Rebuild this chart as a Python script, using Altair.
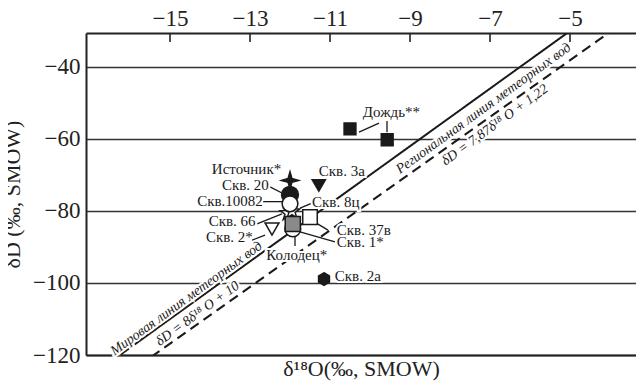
import altair as alt
import pandas as pd

# ---- data ----
names = ["Источник*", "Скв. 20", "Скв. 66", "Скв. 8ц", "Скв.10082", "Скв. 1*",
         "Колодец*", "Скв. 37в", "Скв. 2*", "Скв. 3а", "Скв. 2а", "Дождь**", "Дождь**"]
d18o = [-12.0, -12.0, -12.05, -11.95, -12.0, -11.93, -11.93, -11.5, -12.45, -11.28, -11.15, -10.5, -9.57]
dD = [-71.5, -75.5, -80.6, -80.1, -78.0, -85.0, -83.6, -81.7, -85.0, -72.9, -98.9, -57.2, -60.2]
kind = ["star4", "fcircle", "ostar", "ostar", "ocircle", "ocircle", "gsquare", "osquare",
        "otri", "ftri", "hex", "fsquare", "fsquare"]

# labels (text, x, y, align)
lab_text = ["Источник*", "Скв. 20", "Скв.10082", "Скв. 66", "Скв. 2*", "Скв. 3а", "Скв. 8ц",
            "Скв. 37в", "Скв. 1*", "Колодец*", "Скв. 2а", "Дождь**"]
lab_x = [-12.22, -12.53, -12.68, -12.86, -12.93, -11.28, -11.45, -10.83, -10.83, -11.83, -10.88, -10.18]
lab_y = [-68.3, -72.8, -77.2, -82.8, -87.2, -68.9, -77.5, -85.3, -88.6, -92.3, -98.1, -52.5]
lab_align = ["right", "right", "right", "right", "right", "left", "left",
             "left", "left", "center", "left", "left"]

# leader lines (x1, y1, x2, y2)
ld_x1 = [-12.5, -12.675, -12.825, -12.95, -11.45, -11.35, -11.75, -11.875, -10.275, -9.575]
ld_y1 = [-73.3, -77.4, -83.6, -88.1, -77.8, -83.3, -85.8, -86.1, -58.1, -55.0]
ld_x2 = [-12.2, -12.175, -12.2, -12.625, -11.75, -11.05, -10.875, -11.875, -9.775, -9.575]
ld_y2 = [-75.0, -77.4, -80.8, -86.7, -79.2, -85.3, -88.6, -89.7, -55.6, -58.1]

# meteoric water lines: slope, intercept
gmwl = (8.0, 10.0)
rmwl = (7.87, 1.22)
line_text = ["Мировая линия метеорных вод", "δD = 8δ¹⁸ O + 10",
             "Региональная линия метеорных вод", "δD = 7,87δ¹⁸ O + 1,22"]
line_tx = [-14.59, -14.31, -7.16, -6.88]
line_ty = [-104.3, -108.5, -51.5, -56.1]

top_ticks = [-15, -13, -11, -9, -7, -5]
y_ticks = [-120, -100, -80, -60, -40]

XDOM = [-17.1, -3.35]
YDOM = [-120, -30.56]
FONT = "Liberation Serif"
W, H = 550, 322

xs = alt.Scale(domain=XDOM, nice=False, zero=False)
ys = alt.Scale(domain=YDOM, nice=False, zero=False)


def X(f="x:Q"):
    return alt.X(f, scale=xs, axis=None)


def Y(f="y:Q"):
    return alt.Y(f, scale=ys)


pts = pd.DataFrame({"name": names, "x": d18o, "y": dD, "kind": kind})
labs = pd.DataFrame({"t": lab_text, "x": lab_x, "y": lab_y, "a": lab_align})
leads = pd.DataFrame({"x": ld_x1, "y": ld_y1, "x2": ld_x2, "y2": ld_y2})
lines = pd.DataFrame({
    "x": [XDOM[0], XDOM[0]],
    "y": [gmwl[0] * XDOM[0] + gmwl[1], rmwl[0] * XDOM[0] + rmwl[1]],
    "x2": [XDOM[1], XDOM[1]],
    "y2": [gmwl[0] * XDOM[1] + gmwl[1], rmwl[0] * XDOM[1] + rmwl[1]],
    "ln": ["g", "r"],
})
ltxt = pd.DataFrame({"t": line_text, "x": line_tx, "y": line_ty})
ticks = pd.DataFrame({"x": top_ticks})

STAR4 = "M0,-1 L0.22,-0.22 L1,0 L0.22,0.22 L0,1 L-0.22,0.22 L-1,0 L-0.22,-0.22 Z"
HEX = "M0,-1 L0.866,-0.5 L0.866,0.5 L0,1 L-0.866,0.5 L-0.866,-0.5 Z"
STAR5 = ("M0,-1 L0.235,-0.324 L0.951,-0.309 L0.38,0.124 L0.588,0.809 L0,0.4 "
         "L-0.588,0.809 L-0.38,0.124 L-0.951,-0.309 L-0.235,-0.324 Z")

kinds = ["star4", "fcircle", "ostar", "ocircle", "gsquare", "osquare", "otri", "ftri", "hex", "fsquare"]
shapes = [STAR4, "circle", STAR5, "circle", "square", "square", "triangle-down", "triangle-down", HEX, "square"]
fills = ["#1a1a1a", "#1a1a1a", "white", "white", "#8a8a8a", "white", "white", "#1a1a1a", "#1a1a1a", "#1a1a1a"]
sizes = [300, 140, 260, 160, 105, 110, 130, 140, 210, 90]

top_axis = alt.Axis(orient="top", values=top_ticks, ticks=False, grid=False, domain=True,
                    domainColor="#222", domainWidth=2, labelFont=FONT, labelFontSize=23,
                    labelColor="#222", labelPadding=3, title=None)

tick_layer = alt.Chart(ticks).mark_rule(color="#222", strokeWidth=1.6).encode(
    x=alt.X("x:Q", scale=xs, axis=top_axis),
    y=alt.value(0), y2=alt.value(9),
)

bottom_axis_layer = alt.Chart(ticks).mark_point(opacity=0).encode(
    x=alt.X("x:Q", scale=xs, axis=alt.Axis(orient="bottom", labels=False, ticks=False, grid=False,
                                           domainColor="#222", domainWidth=2,
                                           title="δ¹⁸O(‰, SMOW)", titleFont=FONT, titleFontSize=22,
                                           titleFontWeight="normal", titleColor="#222", titlePadding=3)),
    y=alt.Y("x:Q", scale=ys, axis=alt.Axis(values=y_ticks, ticks=False, grid=True, gridColor="#333",
                                            gridWidth=1.3, gridOpacity=1, domainColor="#222",
                                            domainWidth=2, labelFont=FONT, labelFontSize=23,
                                            labelColor="#222", labelPadding=6,
                                            title="δD (‰, SMOW)", titleFont=FONT, titleFontSize=22,
                                            titleFontWeight="normal", titleColor="#222", titlePadding=8)),
)

line_layer = alt.Chart(lines).mark_rule(color="#1a1a1a", strokeWidth=2, clip=True).encode(
    x=X(), y=Y(), x2="x2:Q", y2="y2:Q",
    strokeDash=alt.StrokeDash("ln:N", scale=alt.Scale(domain=["g", "r"], range=[[1, 0], [10, 6]]), legend=None),
)

ltxt_halo = alt.Chart(ltxt).mark_text(font=FONT, fontSize=14, fontStyle="italic", angle=324,
                                      stroke="white", strokeWidth=4, color="white").encode(
    x=X(), y=Y(), text="t:N")
ltxt_layer = alt.Chart(ltxt).mark_text(font=FONT, fontSize=14, fontStyle="italic", angle=324,
                                       color="#1a1a1a").encode(
    x=X(), y=Y(), text="t:N")

lead_layer = alt.Chart(leads).mark_rule(color="#1a1a1a", strokeWidth=1.3).encode(
    x=X(), y=Y(), x2="x2:Q", y2="y2:Q")

pt_layer = alt.Chart(pts).mark_point(filled=True, stroke="#1a1a1a", strokeWidth=1.5, opacity=1).encode(
    x=X(), y=Y(),
    shape=alt.Shape("kind:N", scale=alt.Scale(domain=kinds, range=shapes), legend=None),
    fill=alt.Fill("kind:N", scale=alt.Scale(domain=kinds, range=fills), legend=None),
    size=alt.Size("kind:N", scale=alt.Scale(domain=kinds, range=sizes), legend=None),
    order=alt.Order("idx:Q"),
).transform_window(idx="row_number()")


def label_layer(al, halo):
    kw = dict(font=FONT, fontSize=15, align=al, baseline="middle")
    if halo:
        kw.update(stroke="white", strokeWidth=4, color="white")
    else:
        kw.update(color="#1a1a1a")
    return alt.Chart(labs).transform_filter(alt.datum.a == al).mark_text(**kw).encode(
        x=X(), y=Y(), text="t:N")


layers = [bottom_axis_layer, line_layer, ltxt_halo, ltxt_layer, lead_layer]
layers += [label_layer(a, True) for a in ["left", "right", "center"]]
layers += [label_layer(a, False) for a in ["left", "right", "center"]]
layers += [pt_layer, tick_layer]

chart = alt.layer(*layers).resolve_axis(x="independent").properties(
    width=W, height=H,
    autosize=alt.AutoSizeParams(type="none"),
    padding={"left": 78, "top": 25, "right": 0, "bottom": 26},
).configure_view(stroke=None).configure(background="white")

chart.save("out.html", embed_options={"renderer": "svg", "actions": False})
